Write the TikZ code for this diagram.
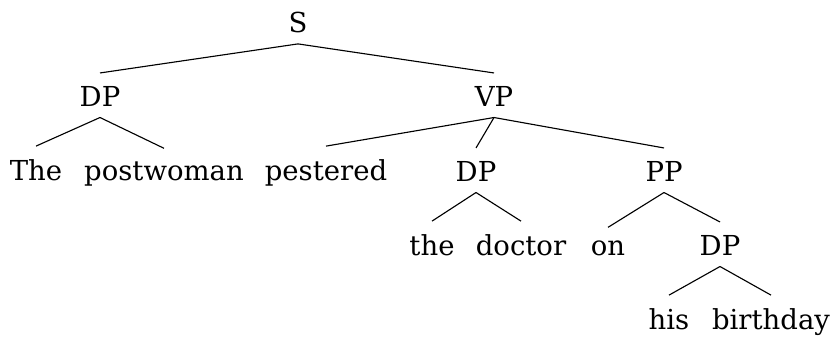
\documentclass[tikz,border=0pt]{standalone}
\usepackage{fontspec}
\setmainfont{DejaVu Serif}
\begin{document}
\begin{tikzpicture}[x=0.4pt,y=-0.4pt,
  lab/.style={anchor=base,inner sep=4.4pt,font=\fontsize{11}{13}\selectfont},
  edge/.style={line width=0.45pt}]
\useasboundingbox (0,0) rectangle (830,336);
\node[lab] (S) at (298,32) {S};
\node[lab] (DP1) at (100,106) {DP};
\node[lab] (VP) at (494,106) {VP};
\node[lab] (The) at (36,180) {The};
\node[lab] (postwoman) at (164,180) {postwoman};
\node[lab] (pestered) at (326,180) {pestered};
\node[lab] (DP2) at (476,181) {DP};
\node[lab] (PP) at (664,181) {PP};
\node[lab] (the) at (432,255) {the};
\node[lab] (doctor) at (521,255) {doctor};
\node[lab] (on) at (608,255) {on};
\node[lab] (DP3) at (720,255) {DP};
\node[lab] (his) at (669,329) {his};
\node[lab] (birthday) at (771,329) {birthday};
\foreach \p/\c in {S/DP1,S/VP,DP1/The,DP1/postwoman,VP/pestered,VP/DP2,VP/PP,DP2/the,DP2/doctor,PP/on,PP/DP3,DP3/his,DP3/birthday}
  \draw[edge] (\p.south) -- ([yshift=0.6pt]\c.north);
\end{tikzpicture}
\end{document}
